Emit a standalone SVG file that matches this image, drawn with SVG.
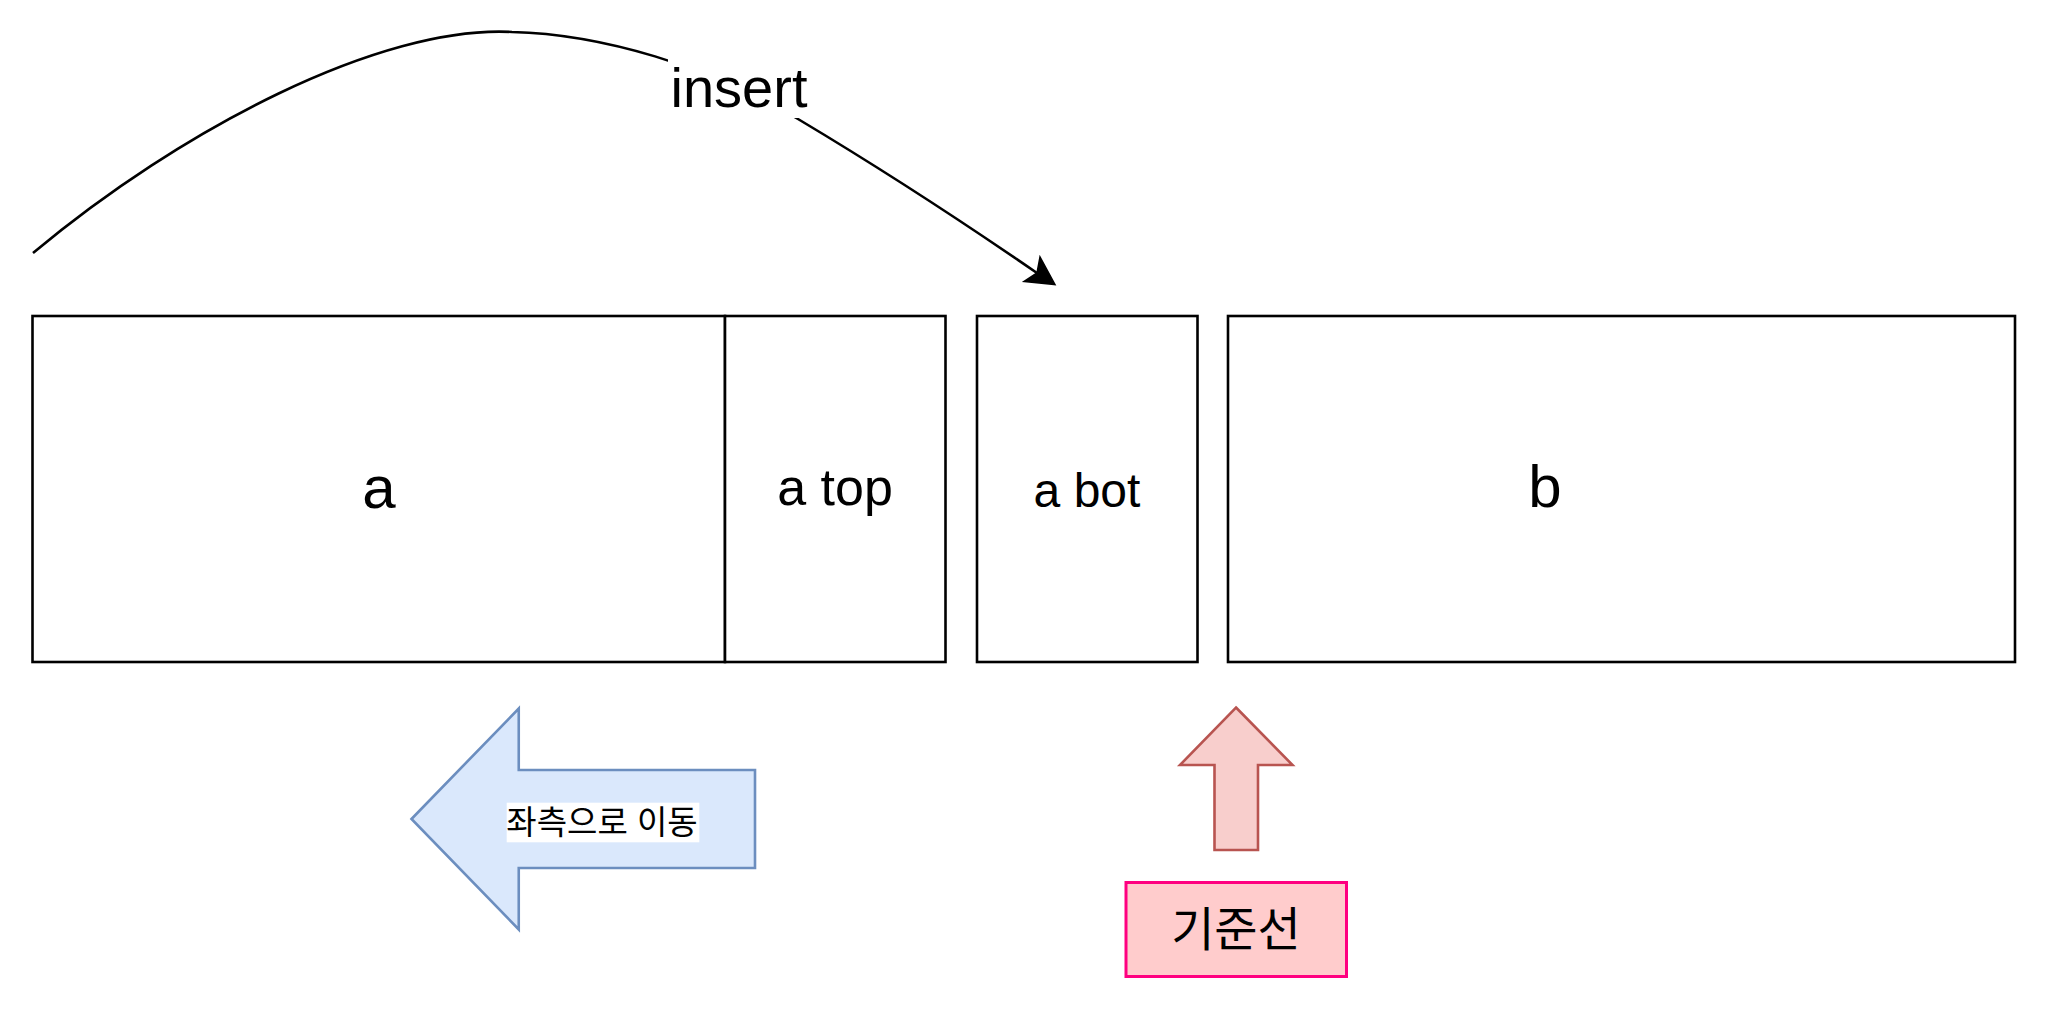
<svg xmlns="http://www.w3.org/2000/svg" width="2048" height="1010" viewBox="0 0 2048 1010">
<style>
.box{fill:#ffffff;stroke:#000000;stroke-width:2.6}
.lbl{font-family:"Liberation Sans",Arial,Helvetica,sans-serif;fill:#000000;text-anchor:middle}
.ko{font-family:"Liberation Sans","Noto Sans CJK KR",sans-serif;fill:#000000;text-anchor:middle}
.edge{fill:none;stroke:#000000;stroke-width:2.6}
</style>
<rect x="0" y="0" width="2048" height="1010" fill="#ffffff"/>
<g id="node-a">
<rect class="box" x="32.5" y="316" width="692.5" height="346"/>
<text class="lbl" x="379" y="508" font-size="60">a</text>
</g>
<g id="node-a-top">
<rect class="box" x="725" y="316" width="220.5" height="346"/>
<text class="lbl" x="835" y="505" font-size="52">a top</text>
</g>
<g id="node-a-bot">
<rect class="box" x="977" y="316" width="220.5" height="346"/>
<text class="lbl" x="1087" y="507" font-size="48">a bot</text>
</g>
<g id="node-b">
<rect class="box" x="1228" y="316" width="787" height="346"/>
<text class="lbl" x="1545" y="507" font-size="60">b</text>
</g>
<g id="connectors">
<path class="edge" d="M33,253 C180,130 380,25 512,32 C600,34 710,66 798,119 C870,162 960,220 1037,273"/>
<path d="M1055,284.5 L1040,257 L1037,273 L1024,281.5 Z" fill="#000000" stroke="#000000" stroke-width="1.5" stroke-linejoin="miter"/>
<rect x="668" y="56" width="140" height="62" fill="#ffffff"/>
<text class="lbl" x="739" y="107" font-size="56">insert</text>
</g>
<g id="node-move-left">
<path d="M411.5,819 L518.75,708.5 L518.75,770 L755,770 L755,868 L518.75,868 L518.75,929.5 Z" fill="#dae8fc" stroke="#6c8ebf" stroke-width="2.6"/>
<rect x="506.7" y="802.7" width="192.6" height="39.6" fill="#ffffff"/>
<text class="ko" x="602" y="834" font-size="33">좌측으로 이동</text>
</g>
<g id="node-up-arrow">
<path d="M1236,707.5 L1292.5,765 L1258,765 L1258,850 L1214.5,850 L1214.5,765 L1180,765 Z" fill="#f8cecc" stroke="#b85450" stroke-width="2.6"/>
</g>
<g id="node-baseline">
<rect x="1126" y="882.5" width="220.5" height="94" fill="#ffcccc" stroke="#ff0080" stroke-width="3"/>
<text class="ko" x="1236" y="946" font-size="47">기준선</text>
</g>
</svg>
